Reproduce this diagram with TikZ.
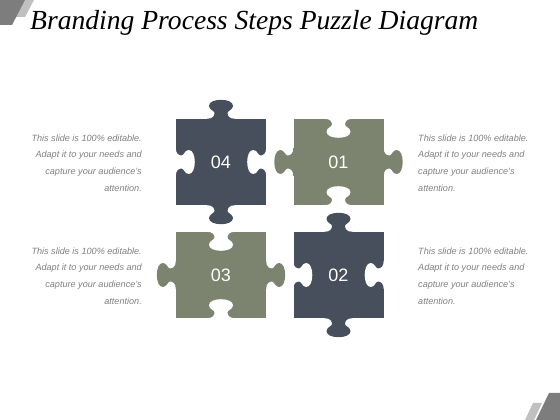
\documentclass[tikz,border=0pt]{standalone}
\usepackage{fontspec}
\setmainfont{Liberation Serif}
\setsansfont{Liberation Sans}
\usetikzlibrary{positioning}

\definecolor{slate}{RGB}{71,79,92}
\definecolor{olive}{RGB}{124,131,110}
\definecolor{notegray}{RGB}{128,128,128}
\definecolor{cornerdark}{RGB}{125,125,125}
\definecolor{cornerlight}{RGB}{192,192,192}

\tikzset{
    piece/.style={minimum width=90pt, minimum height=86pt, inner sep=0pt, text=white,
        font=\sffamily\fontsize{18}{18}\selectfont},
    note/.style={inner sep=0pt, text=notegray, font=\sffamily\itshape\fontsize{9.1}{16.7}\selectfont},
    knob/.pic={
        \fill (-14,-1) -- (-14,0) .. controls (-8,0) and (-6.5,3) .. (-6.5,6)
            .. controls (-6.5,8) and (-12,9) .. (-12,13)
            .. controls (-12,17) and (-6,19) .. (0,19)
            .. controls (6,19) and (12,17) .. (12,13)
            .. controls (12,9) and (6.5,8) .. (6.5,6)
            .. controls (6.5,3) and (8,0) .. (14,0) -- (14,-1) -- cycle;
    }
}

\begin{document}
\begin{tikzpicture}[x=1pt, y=1pt]
    \useasboundingbox (0,0) rectangle (560,420);

    % corners
    \fill[cornerlight] (24,420) -- (34,420) -- (25,403) -- (15,403) -- cycle;
    \fill[cornerdark] (0,420) -- (25,420) -- (12,395) -- (0,395) -- cycle;
    \fill[cornerlight] (525,0) -- (534,0) -- (542,17) -- (533,17) -- cycle;
    \fill[cornerdark] (536,0) -- (560,0) -- (560,27) -- (549,27) -- cycle;

    \node[anchor=base west, inner sep=0pt, font=\itshape\fontsize{27.6}{27.6}\selectfont] (title) at (30,390)
        {Branding Process Steps Puzzle Diagram};

    % pieces
    \node[piece, fill=slate] (p04) at (221,258) {04};
    \node[piece, fill=olive] (p01) at (338.5,258) {01};
    \node[piece, fill=olive] (p03) at (221,145) {03};
    \node[piece, fill=slate] (p02) at (338.5,145) {02};

    \pic[fill=slate] at (p04.north) {knob};
    \pic[fill=slate, rotate=180] at (p04.south) {knob};
    \pic[fill=white, rotate=-90] at (p04.west) {knob};
    \pic[fill=white, rotate=90] at (p04.east) {knob};

    \pic[fill=white, rotate=180] at (p01.north) {knob};
    \pic[fill=white] at (p01.south) {knob};
    \pic[fill=olive, rotate=90] at (p01.west) {knob};
    \pic[fill=olive, rotate=-90] at (p01.east) {knob};

    \pic[fill=white, rotate=180] at (p03.north) {knob};
    \pic[fill=white] at (p03.south) {knob};
    \pic[fill=olive, rotate=90] at (p03.west) {knob};
    \pic[fill=olive, rotate=-90] at (p03.east) {knob};

    \pic[fill=slate] at (p02.north) {knob};
    \pic[fill=slate, rotate=180] at (p02.south) {knob};
    \pic[fill=white, rotate=-90] at (p02.west) {knob};
    \pic[fill=white, rotate=90] at (p02.east) {knob};

    % texts
    \node[note, anchor=east, align=right] (t04) at (142,257)
        {This slide is 100\% editable.\\Adapt it to your needs and\\capture your audience's\\attention.};
    \node[note, anchor=east, align=right] (t03) at (142,144)
        {This slide is 100\% editable.\\Adapt it to your needs and\\capture your audience's\\attention.};
    \node[note, anchor=west, align=left] (t01) at (418,257)
        {This slide is 100\% editable.\\Adapt it to your needs and\\capture your audience's\\attention.};
    \node[note, anchor=west, align=left] (t02) at (418,144)
        {This slide is 100\% editable.\\Adapt it to your needs and\\capture your audience's\\attention.};
\end{tikzpicture}
\end{document}
